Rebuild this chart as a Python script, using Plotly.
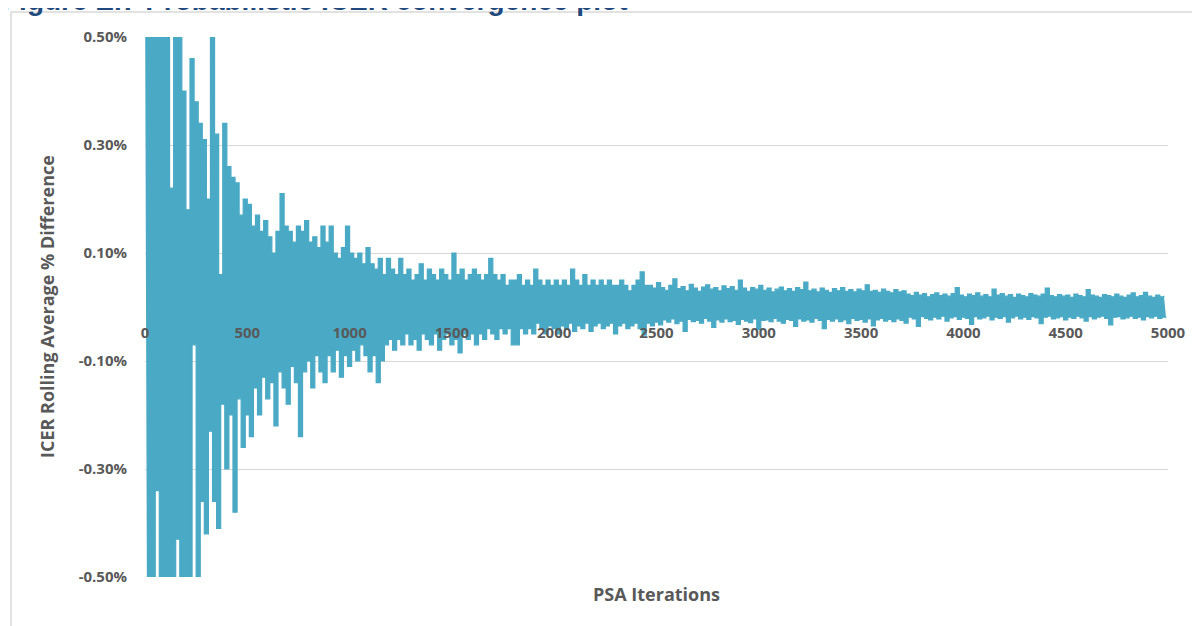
import plotly.graph_objects as go

# ---- data (values in %) ----
step = 20  # iterations between successive readings of the band's edges
upper = [
    0.62, 0.65, 0.60, 0.63, 0.58, 0.61, 0.22, 0.55, 0.52, 0.40,
    0.18, 0.46, 0.38, 0.34, 0.31, 0.20, 0.52, 0.32, 0.06, 0.34,
    0.26, 0.24, 0.23, 0.17, 0.20, 0.19, 0.15, 0.17, 0.14, 0.16,
    0.13, 0.10, 0.14, 0.21, 0.15, 0.14, 0.12, 0.15, 0.14, 0.16,
    0.12, 0.13, 0.11, 0.15, 0.12, 0.15, 0.10, 0.09, 0.11, 0.15,
    0.10, 0.09, 0.10, 0.08, 0.11, 0.08, 0.07, 0.09, 0.06, 0.09,
    0.07, 0.06, 0.09, 0.06, 0.07, 0.05, 0.06, 0.08, 0.05, 0.07,
    0.06, 0.05, 0.07, 0.06, 0.05, 0.10, 0.06, 0.07, 0.05, 0.06,
    0.07, 0.06, 0.05, 0.06, 0.09, 0.06, 0.05, 0.06, 0.04, 0.05,
    0.05, 0.06, 0.04, 0.05, 0.04, 0.07, 0.05, 0.04, 0.05, 0.04,
    0.05, 0.04, 0.05, 0.04, 0.07, 0.05, 0.04, 0.06, 0.04, 0.05,
    0.04, 0.05, 0.04, 0.05, 0.04, 0.04, 0.05, 0.04, 0.03, 0.04,
    0.05, 0.065, 0.04, 0.04, 0.035, 0.045,
    0.036, 0.031, 0.040, 0.052, 0.034, 0.038, 0.030, 0.042, 0.035, 0.029,
    0.037, 0.041, 0.033, 0.036, 0.030, 0.039, 0.034, 0.038, 0.031, 0.050,
    0.035, 0.029, 0.036, 0.033, 0.040,
    0.031, 0.035, 0.028, 0.033, 0.037, 0.030, 0.034, 0.029, 0.036, 0.032,
    0.046, 0.030, 0.033, 0.028, 0.035, 0.031, 0.027, 0.034, 0.030, 0.036,
    0.029, 0.032, 0.028, 0.033, 0.030, 0.041, 0.029, 0.031, 0.027, 0.033,
    0.029, 0.026, 0.032, 0.028, 0.030,
    0.024, 0.021, 0.027, 0.022, 0.025, 0.019, 0.023, 0.026, 0.021, 0.024,
    0.020, 0.025, 0.036, 0.022, 0.019, 0.024, 0.021, 0.026, 0.020, 0.023,
    0.019, 0.033, 0.022, 0.025, 0.020, 0.023, 0.018, 0.024, 0.021, 0.019,
    0.025, 0.022, 0.020, 0.024, 0.035, 0.021, 0.019, 0.023, 0.020, 0.022,
    0.018, 0.024, 0.021, 0.019, 0.032, 0.022, 0.020, 0.018, 0.023, 0.021,
    0.019, 0.024, 0.020, 0.018, 0.022, 0.026, 0.019, 0.021, 0.027, 0.020,
    0.018, 0.022, 0.019, 0.021,
]
lower = [
    -0.62, -0.60, -0.34, -0.63, -0.60, -0.62, -0.58, -0.43, -0.55, -0.52,
    -0.60, -0.07, -0.56, -0.36, -0.42, -0.23, -0.36, -0.41, -0.18, -0.30,
    -0.20, -0.38, -0.17, -0.26, -0.20, -0.24, -0.15, -0.20, -0.13, -0.17,
    -0.14, -0.22, -0.12, -0.15, -0.18, -0.11, -0.14, -0.24, -0.12, -0.10,
    -0.15, -0.09, -0.12, -0.14, -0.09, -0.12, -0.08, -0.13, -0.09, -0.11,
    -0.08, -0.10, -0.07, -0.09, -0.12, -0.09, -0.14, -0.10, -0.07, -0.06,
    -0.08, -0.06, -0.07, -0.05, -0.07, -0.06, -0.08, -0.05, -0.06, -0.07,
    -0.05, -0.08, -0.06, -0.05, -0.07, -0.06, -0.085, -0.05, -0.06, -0.05,
    -0.07, -0.05, -0.06, -0.04, -0.05, -0.06, -0.04, -0.05, -0.04, -0.07,
    -0.07, -0.04, -0.05, -0.04, -0.05, -0.03, -0.04, -0.05, -0.035, -0.04,
    -0.05, -0.035, -0.04, -0.03, -0.045, -0.035, -0.04, -0.03, -0.045, -0.035,
    -0.03, -0.04, -0.035, -0.03, -0.05, -0.035, -0.03, -0.04, -0.035, -0.03,
    -0.04, -0.052, -0.03, -0.035, -0.028, -0.033,
    -0.024, -0.028, -0.022, -0.031, -0.026, -0.045, -0.023, -0.027, -0.025, -0.030,
    -0.021, -0.026, -0.038, -0.024, -0.028, -0.022, -0.027, -0.025, -0.032, -0.023,
    -0.026, -0.029, -0.022, -0.042, -0.025,
    -0.024, -0.027, -0.021, -0.026, -0.030, -0.023, -0.025, -0.036, -0.022, -0.026,
    -0.024, -0.028, -0.021, -0.025, -0.040, -0.023, -0.026, -0.022, -0.027, -0.024,
    -0.031, -0.021, -0.025, -0.023, -0.028, -0.022, -0.035, -0.024, -0.021, -0.026,
    -0.023, -0.027, -0.022, -0.025, -0.030,
    -0.019, -0.022, -0.036, -0.018, -0.021, -0.024, -0.019, -0.022, -0.017, -0.026,
    -0.020, -0.018, -0.023, -0.019, -0.021, -0.032, -0.018, -0.022, -0.020, -0.017,
    -0.024, -0.019, -0.021, -0.018, -0.028, -0.020, -0.017, -0.022, -0.019, -0.023,
    -0.018, -0.020, -0.031, -0.019, -0.017, -0.022, -0.020, -0.018, -0.024, -0.019,
    -0.021, -0.017, -0.020, -0.026, -0.018, -0.022, -0.019, -0.017, -0.021, -0.033,
    -0.019, -0.018, -0.022, -0.020, -0.017, -0.021, -0.019, -0.024, -0.018, -0.020,
    -0.017, -0.021, -0.019, -0.018,
]
x_ticks = [0, 500, 1000, 1500, 2000, 2500, 3000, 3500, 4000, 4500, 5000]
y_ticks = [0.5, 0.3, 0.1, -0.1, -0.3, -0.5]
y_ticktext = ["0.50%", "0.30%", "0.10%", "-0.10%", "-0.30%", "-0.50%"]

x_upper = [i * step for i in range(len(upper))]
x_lower = [i * step + step / 2 for i in range(len(lower))]

LINE = "#4AAAC5"
GRAY = "#595959"
FONT = "Open Sans"

fig = go.Figure()
fig.add_trace(go.Scatter(x=x_upper, y=upper, mode="lines",
                         line=dict(color=LINE, width=1.2, shape="hv"),
                         hoverinfo="skip"))
fig.add_trace(go.Scatter(x=x_lower, y=lower, mode="lines", fill="tonexty",
                         fillcolor=LINE,
                         line=dict(color=LINE, width=1.2, shape="hv"),
                         hoverinfo="skip"))

# page offset (body margin) compensation: figure sits at page (8, 8)
OFF = 8
W, H = 1200 - OFF, 626 - OFF
L, R, T, B = 145 - OFF, 1168 - OFF, 37 - OFF, 577 - OFF
def px_x(p):  # page pixel -> paper x
    return (p - OFF - L) / (R - L)
def px_y(p):  # page pixel -> paper y
    return (B - (p - OFF)) / (B - T)

fig.update_layout(
    width=W, height=H,
    margin=dict(l=L, r=W - R, t=T, b=H - B),
    paper_bgcolor="white", plot_bgcolor="white",
    showlegend=False,
    font=dict(family=FONT, color=GRAY),
    xaxis=dict(range=[0, 5000], tickvals=x_ticks, showgrid=False,
               zeroline=False, showline=False, ticks="",
               anchor="free", position=0.5,
               tickfont=dict(size=15, color=GRAY, family=FONT, weight="bold"),
               ticklabelstandoff=15),
    yaxis=dict(range=[-0.5, 0.5], tickvals=y_ticks, ticktext=y_ticktext,
               showgrid=True, gridcolor="#D9D9D9", gridwidth=1.3,
               zeroline=False, showline=False, ticks="",
               tickfont=dict(size=15, color=GRAY, family=FONT, weight="bold"),
               ticklabelstandoff=17),
    shapes=[dict(type="rect", xref="paper", yref="paper",
                 x0=px_x(11), x1=px_x(1230), y0=px_y(660), y1=px_y(12),
                 line=dict(color="#D9D9D9", width=1.5), layer="below")],
    annotations=[
        dict(text="ICER Rolling Average % Difference", xref="paper", yref="paper",
             x=px_x(47), y=0.5, xanchor="center", yanchor="middle",
             textangle=-90, showarrow=False,
             font=dict(size=18, color=GRAY, family=FONT, weight="bold")),
        dict(text="PSA Iterations", xref="paper", yref="paper",
             x=0.5, y=px_y(594), xanchor="center", yanchor="middle",
             showarrow=False,
             font=dict(size=18, color=GRAY, family=FONT, weight="bold")),
        dict(text="Figure E.7 Probabilistic ICER convergence plot",
             xref="paper", yref="paper", x=px_x(0), y=px_y(0),
             xanchor="left", yanchor="middle", showarrow=False,
             font=dict(size=28, color="#1F497D", family="Liberation Sans", weight="bold")),
    ],
)

fig.write_html("out.html")
